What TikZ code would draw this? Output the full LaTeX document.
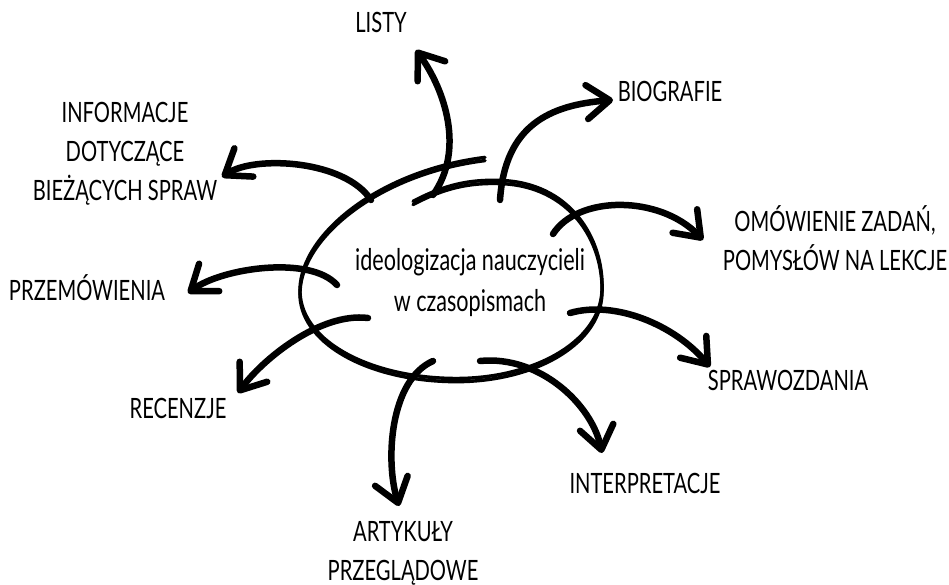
\documentclass[tikz,border=0pt]{standalone}
\usepackage{fontspec}
\setmainfont{Lato}[FakeStretch=0.72]
\usetikzlibrary{arrows.meta}

\begin{document}
\begin{tikzpicture}[x=1pt,y=-1pt,
  pedzel/.style={line width=6.5pt,line cap=round,line join=round,
    -{Straight Barb[length=23pt,width=34pt,line join=round,line cap=round]}},
  owal/.style={line width=3.4pt,line cap=round},
  napis/.style={font=\fontsize{28}{39}\selectfont,align=center,inner sep=0pt,anchor=base},
  srodek/.style={font=\fontsize{30}{41}\selectfont,align=center,inner sep=0pt,anchor=base}]
\useasboundingbox (0,0) rectangle (949,585);

\coordinate (a1) at (433,195); \coordinate (b1) at (416,50);
\coordinate (a2) at (500,200); \coordinate (b2) at (613,100);
\coordinate (a3) at (553,234); \coordinate (b3) at (703,240);
\coordinate (a4) at (570,313); \coordinate (b4) at (710,367);
\coordinate (a5) at (480,361); \coordinate (b5) at (602,453);
\coordinate (a6) at (433,361); \coordinate (b6) at (399,506);
\coordinate (a7) at (368,318); \coordinate (b7) at (238,393);
\coordinate (a8) at (337,285); \coordinate (b8) at (188,293);
\coordinate (a9) at (371,200); \coordinate (b9) at (222,177);

\foreach \dy in {-1.6,1.6}
  \draw[owal,yshift=\dy pt] (413,203) .. controls (445,186) and (470,181) .. (500,182)
    .. controls (570,184) and (604,240) .. (602,292)
    .. controls (600,345) and (530,382) .. (450,380)
    .. controls (365,378) and (298,340) .. (300,290)
    .. controls (302,235) and (380,172) .. (485,159);

\node[srodek] (centrum) at (470,311) {ideologizacja nauczycieli\\w czasopismach};

\node[napis] (listy) at (381,33) {LISTY};
\node[napis] (biografie) at (670,102) {BIOGRAFIE};
\node[napis] (informacje) at (125,201) {INFORMACJE\\DOTYCZĄCE\\BIEŻĄCYCH SPRAW};
\node[napis] (omowienie) at (835,270) {OMÓWIENIE ZADAŃ,\\POMYSŁÓW NA LEKCJE};
\node[napis] (przemowienia) at (87,300) {PRZEMÓWIENIA};
\node[napis] (sprawozdania) at (788,390) {SPRAWOZDANIA};
\node[napis] (recenzje) at (178,418) {RECENZJE};
\node[napis] (interpretacje) at (645,493) {INTERPRETACJE};
\node[napis] (artykuly) at (403,580) {ARTYKUŁY\\PRZEGLĄDOWE};

\draw[pedzel] (a1) .. controls (465,150) and (445,90) .. (b1);
\draw[pedzel] (a2) .. controls (505,125) and (550,105) .. (b2);
\draw[pedzel] (a3) .. controls (578,195) and (660,195) .. (b3);
\draw[pedzel] (a4) .. controls (615,300) and (675,325) .. (b4);
\draw[pedzel] (a5) .. controls (540,355) and (592,405) .. (b5);
\draw[pedzel] (a6) .. controls (390,380) and (385,460) .. (b6);
\draw[pedzel] (a7) .. controls (320,312) and (262,360) .. (b7);
\draw[pedzel] (a8) .. controls (310,255) and (222,268) .. (b8);
\draw[pedzel] (a9) .. controls (345,160) and (255,155) .. (b9);

\end{tikzpicture}
\end{document}
